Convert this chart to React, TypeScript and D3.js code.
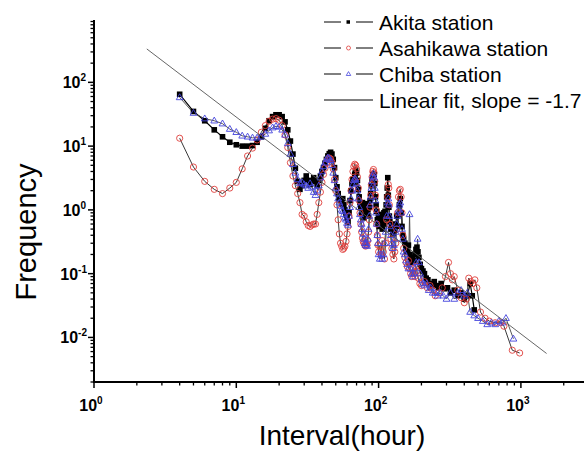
import React from "react";
import * as d3 from "d3";

const akita: [number, number][] = [
  [4,65],[5,35],[6,25],[7,18],[8,14],[9,11.5],[10,10.5],[11,10],[12,10],[13,10.2],[14,11.5],[15,14],[16,19],[17,25],[18,29],[19,31],[20,31],[21,29],[22,24],[23,18],[24,12],[25,7.5],[26,4.5],[27,2.8],[28,2.1],[29,2.4],[30,2.9],[31,3.4],[32,2.9],[33,2.5],[34,2.8],[35,3.2],[36,2.8],[37,2.4],[38,2.9],[39,3.4],[40,4.0],[41,4.6],[42,5.4],[43,6.2],[44,7.0],[45,7.6],[46,8.0],[47,7.5],[48,6.2],[49,4.6],[50,3.2],[51,2.3],[52,1.8],[53,1.5],[54,1.4],[55,1.25],[56,1.5],[57,1.2],[58,1.0],[59,0.85],[60,0.75],[61,0.65],[62,0.9],[63,1.4],[64,2.0],[65,2.6],[66,3.0],[67,2.7],[68,3.6],[69,4.2],[70,3.8],[71,2.9],[72,2.1],[73,1.6],[74,1.3],[75,1.1],[76,0.9],[77,1.3],[78,0.95],[79,0.75],[80,1.1],[81,0.8],[82,0.9],[83,1.25],[84,1.0],[85,0.8],[86,1.1],[87,1.4],[88,1.8],[89,2.4],[90,3.0],[91,3.6],[92,3.3],[93,3.6],[94,2.6],[95,1.6],[96,1.2],[97,0.95],[98,0.7],[99,0.6],[100,0.75],[101,0.55],[102,0.65],[103,0.85],[104,0.6],[105,0.7],[106,0.5],[107,0.8],[108,0.6],[109,0.9],[110,0.75],[111,0.95],[112,0.8],[113,1.2],[114,1.6],[115,2.2],[116,3.2],[117,1.7],[118,1.1],[119,0.8],[120,0.65],[122,0.5],[124,0.58],[126,0.42],[128,0.55],[130,0.48],[132,0.6],[134,0.8],[136,0.55],[138,0.85],[140,1.2],[142,1.5],[144,0.9],[146,0.55],[148,0.4],[150,0.35],[153,0.3],[156,0.25],[159,0.22],[162,0.28],[165,0.2],[168,0.17],[171,0.15],[174,0.18],[177,0.16],[180,0.2],[183,0.24],[186,0.26],[189,0.22],[192,0.18],[196,0.14],[200,0.12],[205,0.11],[210,0.1],[216,0.085],[222,0.08],[230,0.07],[238,0.065],[246,0.075],[255,0.065],[265,0.06],[275,0.07],[290,0.058],[305,0.06],[320,0.05],[340,0.055],[360,0.045],[380,0.05],[400,0.04],[420,0.045],[440,0.07],[455,0.045],[470,0.027]
];

const asahikawa: [number, number][] = [
  [4,13.3],[5,4.7],[6,2.8],[7,2.1],[8,1.8],[9,2.2],[10,2.7],[11,4.4],[12,7.0],[13,9.3],[14,12.5],[15,16.5],[16,21],[17,24.5],[18,26.5],[19,27],[20,25.5],[21,21],[22,15],[23,9.5],[24,5.5],[25,3.4],[26,2.4],[27,1.8],[28,1.3],[29,0.85],[30,0.8],[31,0.65],[32,0.57],[33,0.55],[34,0.58],[35,0.6],[36,0.6],[37,0.85],[38,1.3],[39,1.9],[40,2.7],[41,3.6],[42,4.5],[43,5.4],[44,6.2],[45,6.5],[46,6.3],[47,5.6],[48,4.4],[49,3.0],[50,2.0],[51,1.2],[52,0.7],[53,0.42],[54,0.3],[55,0.27],[56,0.24],[57,0.25],[58,0.27],[59,0.32],[60,0.42],[61,0.55],[62,0.8],[63,1.3],[64,2.0],[65,3.0],[66,4.0],[67,4.8],[68,5.2],[69,5.0],[70,4.4],[71,3.3],[72,2.2],[73,1.4],[74,0.9],[75,0.6],[76,0.45],[77,0.36],[78,0.32],[79,0.3],[80,0.28],[81,0.27],[82,0.3],[83,0.28],[84,0.33],[85,0.45],[86,0.7],[87,1.1],[88,1.7],[89,2.5],[90,3.3],[91,4.0],[92,4.3],[93,3.8],[94,2.8],[95,1.7],[96,1.0],[97,0.6],[98,0.4],[99,0.28],[100,0.22],[102,0.27],[104,0.2],[106,0.33],[108,0.22],[110,0.17],[112,0.3],[114,0.7],[116,1.6],[117,2.5],[118,2.2],[119,1.2],[120,0.6],[122,0.35],[124,0.25],[126,0.2],[128,0.17],[130,0.22],[132,0.3],[134,0.5],[136,0.9],[138,1.6],[140,2.0],[142,2.1],[144,1.6],[146,0.9],[148,0.4],[150,0.25],[153,0.18],[156,0.15],[159,0.13],[162,0.16],[165,0.12],[168,0.1],[171,0.09],[174,0.12],[177,0.1],[180,0.09],[183,0.13],[186,0.11],[190,0.085],[195,0.07],[200,0.065],[210,0.075],[220,0.06],[230,0.065],[240,0.055],[250,0.045],[265,0.05],[280,0.06],[295,0.09],[310,0.15],[320,0.1],[330,0.08],[340,0.09],[360,0.055],[380,0.042],[400,0.035],[415,0.04],[430,0.085],[445,0.075],[460,0.07],[475,0.08],[490,0.06],[520,0.025],[560,0.02],[600,0.018],[660,0.017],[720,0.017],[760,0.015],[870,0.0063],[980,0.0057]
];

const chiba: [number, number][] = [
  [4,58],[5,33],[6,27],[7,25],[8,22.5],[9,18.5],[10,16.5],[11,14.5],[12,14],[13,13.5],[14,13.5],[15,14],[16,15.5],[17,17.5],[18,19.5],[19,20.5],[20,20],[21,18],[22,15],[23,11],[24,7.5],[25,5.2],[26,3.8],[27,3.0],[28,2.6],[29,2.7],[30,2.5],[31,2.4],[32,2.2],[33,2.6],[34,2.3],[35,1.9],[36,1.7],[37,2.0],[38,2.4],[39,3.2],[40,4.0],[41,4.8],[42,5.5],[43,6.2],[44,6.6],[45,6.4],[46,6.0],[47,5.0],[48,3.8],[49,2.9],[50,2.2],[51,1.8],[52,1.5],[53,1.3],[54,1.15],[55,1.0],[56,0.95],[57,0.85],[58,0.75],[59,0.7],[60,0.62],[61,0.58],[62,0.8],[63,1.1],[64,1.5],[65,2.0],[66,2.5],[67,2.9],[68,3.1],[69,3.0],[70,2.6],[71,2.0],[72,1.5],[73,1.1],[74,0.85],[75,0.7],[76,0.6],[77,0.5],[78,0.42],[79,0.35],[80,0.3],[81,0.28],[82,0.3],[83,0.27],[84,0.35],[85,0.5],[86,0.8],[87,1.2],[88,1.6],[89,2.2],[90,2.8],[91,3.4],[92,3.7],[93,3.2],[94,2.2],[95,1.4],[96,0.9],[97,0.6],[98,0.4],[99,0.3],[100,0.2],[102,0.17],[104,0.2],[106,0.17],[108,0.2],[110,0.3],[112,0.45],[114,0.8],[116,1.3],[117,1.5],[118,1.2],[119,0.8],[120,0.55],[122,0.4],[124,0.3],[126,0.25],[128,0.28],[130,0.35],[132,0.45],[134,0.6],[136,0.8],[138,1.0],[140,1.2],[142,1.3],[144,0.9],[146,0.5],[148,0.35],[150,0.22],[153,0.2],[156,0.16],[159,0.14],[162,0.12],[165,0.85],[168,0.12],[171,0.1],[174,0.09],[177,0.1],[180,0.12],[184,0.15],[188,0.35],[192,0.15],[196,0.1],[200,0.08],[205,0.07],[210,0.065],[218,0.07],[225,0.055],[232,0.06],[240,0.05],[250,0.05],[260,0.045],[270,0.05],[285,0.045],[300,0.04],[320,0.05],[340,0.04],[360,0.05],[380,0.055],[400,0.045],[420,0.05],[440,0.025],[470,0.022],[500,0.02],[540,0.018],[580,0.016],[620,0.017],[660,0.016],[700,0.018],[740,0.017],[785,0.02],[886,0.0095]
];

const fitSlope = -1.7;
const fitLogIntercept = 3.155;
const fitRange: [number, number] = [2.35, 1515];

const xMajor = [1, 10, 100, 1000];
const yMajor = [0.01, 0.1, 1, 10, 100];
const xExp = ["0", "1", "2", "3"];
const yExp = ["-2", "-1", "0", "1", "2"];

const legendLabels = ["Akita station", "Asahikawa station", "Chiba station", "Linear fit, slope = -1.7"];

const RED = "#e0403c";
const BLUE = "#4444dd";

export default function App() {
  const W = 584, H = 452;
  const x = d3.scaleLog().domain([1, 10000]).range([94, 94 + 4 * 142.3]);
  const y = d3.scaleLog().domain([0.002, 950]).range([382, 20]);
  const x0 = 94, y0 = 382;

  const line = d3.line<[number, number]>().x(d => x(d[0])).y(d => y(d[1]));

  const minorX: number[] = [];
  for (let e = 0; e < 4; e++) for (let k = 2; k <= 9; k++) minorX.push(k * Math.pow(10, e));
  const minorY: number[] = [];
  for (let e = -3; e <= 2; e++) for (let k = 2; k <= 9; k++) {
    const v = k * Math.pow(10, e);
    if (v >= 0.002 && v <= 950) minorY.push(v);
  }

  const fitPts: [number, number][] = fitRange.map(v => [v, Math.pow(10, fitLogIntercept + fitSlope * Math.log10(v))]);

  const tri = (cx: number, cy: number, s: number) => {
    const h = s * 0.866;
    return `M${cx},${cy - h * 0.62}L${cx + s / 2},${cy + h * 0.38}L${cx - s / 2},${cy + h * 0.38}Z`;
  };

  const font = "Liberation Sans, Arial, sans-serif";
  const legY = [22, 48, 74, 100];

  return (
    <svg width={W} height={H} style={{ position: "absolute", left: 0, top: 0, background: "#fff" }} fontFamily={font}>
      <rect width={W} height={H} fill="#fff" />
      {/* series lines */}
      <path d={line(akita) || ""} fill="none" stroke="#000" strokeWidth={1.2} />
      <path d={line(asahikawa) || ""} fill="none" stroke="#222" strokeWidth={0.9} />
      <path d={line(chiba) || ""} fill="none" stroke="#444" strokeWidth={0.9} />
      {/* markers */}
      {akita.map((d, i) => (
        <rect key={"a" + i} x={x(d[0]) - 2.8} y={y(d[1]) - 2.8} width={5.6} height={5.6} fill="#000" />
      ))}
      {asahikawa.map((d, i) => (
        <circle key={"r" + i} cx={x(d[0])} cy={y(d[1])} r={3.1} fill="none" stroke={RED} strokeWidth={0.9} />
      ))}
      {chiba.map((d, i) => (
        <path key={"c" + i} d={tri(x(d[0]), y(d[1]), 6.8)} fill="none" stroke={BLUE} strokeWidth={0.9} />
      ))}
      {/* fit */}
      <path d={line(fitPts) || ""} fill="none" stroke="#555" strokeWidth={0.9} />

      {/* axes */}
      <line x1={x0} y1={20} x2={x0} y2={y0 + 1} stroke="#000" strokeWidth={2} />
      <line x1={x0 - 1} y1={y0} x2={W} y2={y0} stroke="#000" strokeWidth={2} />
      {xMajor.map((v, i) => (
        <line key={"xM" + i} x1={x(v)} x2={x(v)} y1={y0} y2={y0 + 6} stroke="#000" strokeWidth={1.5} />
      ))}
      {minorX.map((v, i) => (
        <line key={"xm" + i} x1={x(v)} x2={x(v)} y1={y0} y2={y0 + 3.5} stroke="#000" strokeWidth={1.3} />
      ))}
      {yMajor.map((v, i) => (
        <line key={"yM" + i} x1={x0 - 6} x2={x0} y1={y(v)} y2={y(v)} stroke="#000" strokeWidth={1.5} />
      ))}
      {minorY.map((v, i) => (
        <line key={"ym" + i} x1={x0 - 3.5} x2={x0} y1={y(v)} y2={y(v)} stroke="#000" strokeWidth={1.3} />
      ))}
      {xMajor.map((v, i) => (
        <text key={"xl" + i} x={x(v) - 3} y={411} textAnchor="middle" fontSize={16} fontWeight="bold">
          10<tspan dy={-7} fontSize={10}>{xExp[i]}</tspan>
        </text>
      ))}
      {yMajor.map((v, i) => (
        <text key={"yl" + i} x={yExp[i].length > 1 ? 87 : 86} y={y(v) + 6} textAnchor="end" fontSize={16} fontWeight="bold">
          10<tspan dy={-7} fontSize={10}>{yExp[i]}</tspan>
        </text>
      ))}
      <text x={342} y={445} textAnchor="middle" fontSize={28}>Interval(hour)</text>
      <text transform={`translate(36,232) rotate(-90)`} textAnchor="middle" fontSize={29}>Frequency</text>

      {/* legend */}
      {legendLabels.map((t, i) => (
        <g key={"lg" + i}>
          {i < 3 ? (
            <>
              <line x1={324} x2={341} y1={legY[i]} y2={legY[i]} stroke="#000" strokeWidth={1} />
              <line x1={356} x2={373} y1={legY[i]} y2={legY[i]} stroke="#000" strokeWidth={1} />
            </>
          ) : (
            <line x1={324} x2={373} y1={legY[i]} y2={legY[i]} stroke="#000" strokeWidth={1} />
          )}
          {i === 0 && <rect x={346.5} y={legY[i] - 1.75} width={3.5} height={3.5} fill="#000" />}
          {i === 1 && <circle cx={348.5} cy={legY[i]} r={2} fill="none" stroke={RED} strokeWidth={0.8} />}
          {i === 2 && <path d={tri(348.5, legY[i], 4.5)} fill="none" stroke={BLUE} strokeWidth={0.8} />}
          <text x={379} y={legY[i] + 7.5} fontSize={21}>{t}</text>
        </g>
      ))}
    </svg>
  );
}
